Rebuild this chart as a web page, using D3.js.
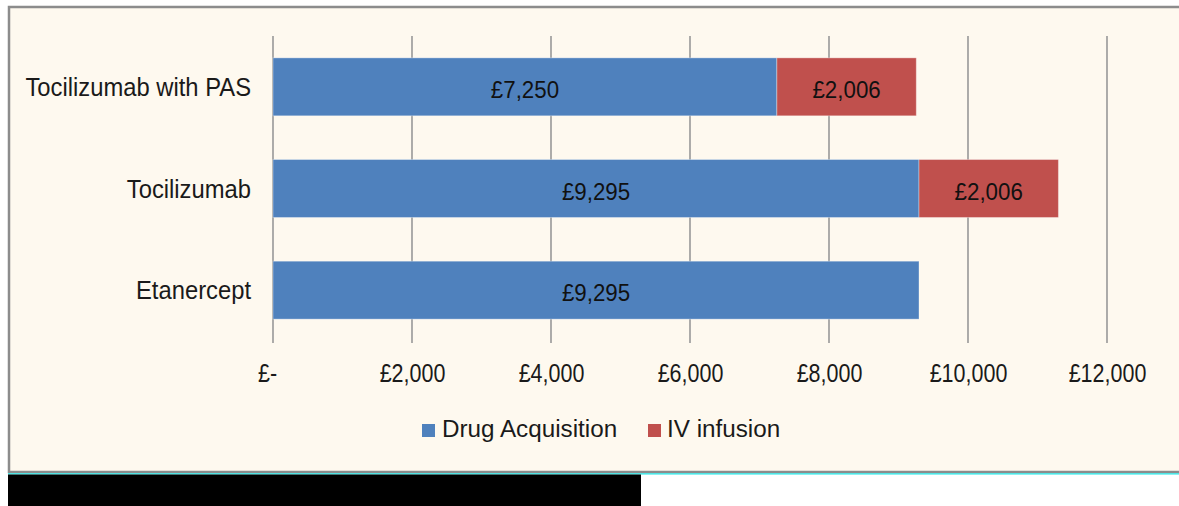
<!DOCTYPE html>
<html>
<head>
<meta charset="utf-8">
<script src="https://cdn.jsdelivr.net/npm/d3@7"></script>
<style>
  html, body { margin: 0; padding: 0; background: #ffffff; }
  svg { display: block; }
</style>
</head>
<body>
<svg id="chart" width="1179" height="506"></svg>
<script>
// ---- data ----
const categories = ["Tocilizumab with PAS", "Tocilizumab", "Etanercept"];
const seriesNames = ["Drug Acquisition", "IV infusion"];
const drugAcquisition = [7250, 9295, 9295];
const ivInfusion = [2006, 2006, 0];
const tickValues = [0, 2000, 4000, 6000, 8000, 10000, 12000];
const tickLabels = ["£-\u00a0\u00a0", "£2,000", "£4,000", "£6,000", "£8,000", "£10,000", "£12,000"];
const colors = ["#4f81bd", "#c0504d"];

const svg = d3.select("#chart");
const W = 1179, H = 506;

// frame
svg.append("rect").attr("x", 0).attr("y", 0).attr("width", W).attr("height", H).attr("fill", "#ffffff");
svg.append("rect").attr("x", 9).attr("y", 7).attr("width", 1300).attr("height", 465)
  .attr("fill", "#fef9ef").attr("stroke", "#8c8c8c").attr("stroke-width", 2.5);
svg.append("line").attr("x1", 8).attr("x2", W).attr("y1", 473.8).attr("y2", 473.8)
  .attr("stroke", "#1ee6e6").attr("stroke-width", 1.2);
svg.append("rect").attr("x", 8).attr("y", 474.5).attr("width", 633).attr("height", 32).attr("fill", "#000000");

// scales
const x = d3.scaleLinear().domain([0, 12000]).range([273, 1107]);
const y = d3.scaleBand().domain(categories).range([36, 341]).paddingInner(0.43).paddingOuter(0.215);

const font = "'Liberation Sans', Arial, sans-serif";

// gridlines
svg.append("g").selectAll("line").data(tickValues).join("line")
  .attr("x1", d => x(d)).attr("x2", d => x(d))
  .attr("y1", 36).attr("y2", 343)
  .attr("stroke", "#989898").attr("stroke-width", 1.6);

// x axis tick labels (condensed)
const xAxis = d3.axisBottom(x).tickValues(tickValues).tickFormat((d, i) => tickLabels[i]).tickSize(0).tickPadding(0);
const gx = svg.append("g").attr("transform", "translate(0,382)").call(xAxis);
gx.select(".domain").remove();
gx.selectAll("text").attr("dy", 0).attr("y", 0).attr("x", 0)
  .attr("transform", "scale(0.86,1)")
  .attr("font-family", font).attr("font-size", 25).attr("fill", "#1a1a1a");

// y axis labels (condensed)
const yAxis = d3.axisLeft(y).tickSize(0).tickPadding(0);
const gy = svg.append("g").attr("transform", "translate(251,0)").call(yAxis);
gy.select(".domain").remove();
gy.selectAll("text").attr("dy", "0.35em").attr("x", 0)
  .attr("transform", "scale(0.915,1)")
  .attr("font-family", font).attr("font-size", 26).attr("fill", "#1a1a1a");

// stacked data
const rows = categories.map((c, i) => ({ cat: c, "Drug Acquisition": drugAcquisition[i], "IV infusion": ivInfusion[i] }));
const stack = d3.stack().keys(seriesNames)(rows);

const layers = svg.append("g").selectAll("g").data(stack).join("g")
  .attr("fill", (d, i) => colors[i]);

layers.selectAll("rect").data(d => d.filter(p => p[1] - p[0] > 0)).join("rect")
  .attr("x", d => x(d[0]))
  .attr("width", d => x(d[1]) - x(d[0]))
  .attr("y", d => y(d.data.cat))
  .attr("height", y.bandwidth())
  .attr("stroke", "rgba(255,255,255,0.35)").attr("stroke-width", 1);

layers.selectAll("text").data(d => d.filter(p => p[1] - p[0] > 0)).join("text")
  .attr("transform", d => `translate(${(x(d[0]) + x(d[1])) / 2},${y(d.data.cat) + y.bandwidth() / 2 + 11}) scale(0.95,1)`)
  .attr("text-anchor", "middle")
  .attr("font-family", font).attr("font-size", 23.5).attr("fill", "#111111")
  .text(d => "£" + d3.format(",")(d[1] - d[0]));

// legend
const legendX = [422, 648];
const lg = svg.append("g").selectAll("g").data(seriesNames).join("g")
  .attr("transform", (d, i) => `translate(${legendX[i]},0)`);
lg.append("rect").attr("x", 0).attr("y", 424).attr("width", 13).attr("height", 13)
  .attr("fill", (d, i) => colors[i]);
lg.append("text").attr("transform", (d, i) => `translate(${i === 0 ? 20 : 19},437) scale(0.99,1)`)
  .attr("font-family", font).attr("font-size", 24.5).attr("fill", "#1a1a1a")
  .text(d => d);
</script>
</body>
</html>
